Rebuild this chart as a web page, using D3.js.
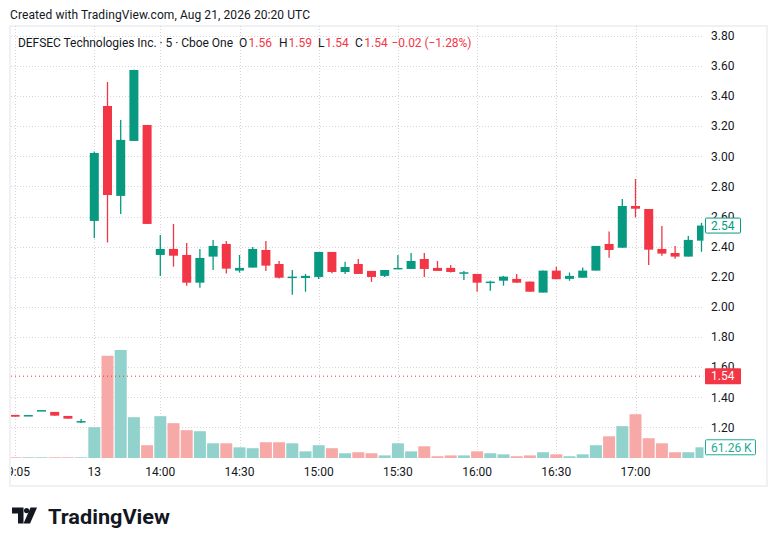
<!DOCTYPE html>
<html>
<head>
<meta charset="utf-8">
<script src="https://cdn.jsdelivr.net/npm/d3@7"></script>
<style>
  body { margin: 0; background: #fff; }
  text { font-family: Roboto, "Liberation Sans", sans-serif; }
</style>
</head>
<body>
<div id="chart"></div>
<script>
// bar times (5 min), prev day 12 then day 13
const times = [
  "12 19:05","12 19:10","12 19:15","12 19:20","12 19:25","12 19:30",
  "13 13:35","13 13:40","13 13:45","13 13:50","13 13:55",
  "13 14:00","13 14:05","13 14:10","13 14:15","13 14:20","13 14:25",
  "13 14:30","13 14:35","13 14:40","13 14:45","13 14:50","13 14:55",
  "13 15:00","13 15:05","13 15:10","13 15:15","13 15:20","13 15:25",
  "13 15:30","13 15:35","13 15:40","13 15:45","13 15:50","13 15:55",
  "13 16:00","13 16:05","13 16:10","13 16:15","13 16:20","13 16:25",
  "13 16:30","13 16:35","13 16:40","13 16:45","13 16:50","13 16:55",
  "13 17:00","13 17:05","13 17:10","13 17:15","13 17:20","13 17:25"
];

const opens = [1.283,1.279,1.312,1.303,1.276,1.240,
  2.571,3.334,2.737,3.102,3.208,2.345,2.385,2.345,2.161,2.334,2.418,2.241,2.261,2.378,2.285,2.199,
  2.192,2.199,2.365,2.232,2.285,2.239,2.206,2.252,2.252,2.318,2.259,2.259,2.226,2.219,2.161,2.174,
  2.186,2.168,2.095,2.241,2.186,2.194,2.241,2.418,2.393,2.670,2.650,2.385,2.358,2.334,2.440];
const highs = [1.283,1.282,1.315,1.303,1.276,1.256,
  3.031,3.494,3.241,3.575,3.208,2.478,2.551,2.425,2.385,2.445,2.438,2.345,2.398,2.438,2.305,2.245,
  2.219,2.365,2.365,2.299,2.318,2.239,2.245,2.345,2.358,2.358,2.305,2.279,2.239,2.219,2.174,2.206,
  2.219,2.168,2.241,2.267,2.228,2.261,2.405,2.500,2.717,2.850,2.650,2.538,2.405,2.471,2.558];
const lows = [1.271,1.279,1.312,1.278,1.258,1.230,
  2.458,2.427,2.617,3.102,2.551,2.206,2.267,2.141,2.128,2.245,2.221,2.228,2.261,2.239,2.188,2.081,
  2.101,2.186,2.223,2.219,2.219,2.166,2.199,2.252,2.252,2.199,2.239,2.228,2.179,2.101,2.108,2.141,
  2.161,2.101,2.095,2.184,2.174,2.194,2.241,2.327,2.393,2.593,2.279,2.340,2.320,2.334,2.367];
const closes = [1.271,1.282,1.315,1.278,1.258,1.242,
  3.022,2.743,3.109,3.573,2.551,2.385,2.340,2.161,2.325,2.405,2.254,2.259,2.385,2.274,2.194,2.201,
  2.206,2.365,2.232,2.265,2.219,2.199,2.245,2.259,2.305,2.252,2.239,2.232,2.230,2.161,2.168,2.201,
  2.161,2.101,2.241,2.184,2.206,2.241,2.405,2.378,2.670,2.652,2.380,2.354,2.334,2.445,2.540];
// volume in thousands
const volumes = [4,4,4,4,4,4,
  176,584,617,233,73,239,199,159,153,84,84,61,56,90,90,84,38,73,56,27,33,27,15,84,38,67,
  10,15,15,38,27,21,10,15,33,21,10,21,73,124,182,250,113,84,33,33,61.26];

const priceTicks = [1.2,1.4,1.6,1.8,2.0,2.2,2.4,2.6,2.8,3.0,3.2,3.4,3.6,3.8];
const tickTimes = ["12 19:05","13 13:35","13 14:00","13 14:30","13 15:00","13 15:30","13 16:00","13 16:30","13 17:00"];
const tickLabels = ["19:05","13","14:00","14:30","15:00","15:30","16:00","16:30","17:00"];

const lastPrice = 2.54;
const linePrice = 1.54;
const lastVolLabel = "61.26 K";

const W = 776, H = 546;
const UP = "#089981", DOWN = "#f23645";
const UPV = "#92d2cc", DOWNV = "#f7a9a7";
const TXT = "#131722", GRID = "#d4d6da";

const pane = {left: 11, right: 703.5, top: 26, bottom: 458};

const svg = d3.select("#chart").append("svg")
  .attr("width", W).attr("height", H);

const bars = times.map((t, i) => ({
  t: t, o: opens[i], h: highs[i], l: lows[i], c: closes[i], v: volumes[i]
}));

const x = d3.scaleBand().domain(times).range([8.5, 708.1]).padding(0);
const cx = t => x(t) + x.bandwidth() / 2;
const y = d3.scaleLinear().domain([1.2, 3.8]).range([427.4, 35.8]);
const yVol = d3.scaleLinear().domain([0, d3.max(volumes)]).range([pane.bottom, pane.bottom - 108]);

// header
svg.append("text").attr("x", 10).attr("y", 19)
  .attr("font-size", 12).attr("fill", TXT)
  .attr("textLength", 300).attr("lengthAdjust", "spacing")
  .text("Created with TradingView.com, Aug 21, 2026 20:20 UTC");

// frame
svg.append("rect").attr("x", 10).attr("y", 26).attr("width", 757).attr("height", 460)
  .attr("fill", "none").attr("stroke", "#eceef2").attr("stroke-width", 1.6);

svg.append("clipPath").attr("id", "pane").append("rect")
  .attr("x", pane.left).attr("y", pane.top)
  .attr("width", pane.right - pane.left).attr("height", pane.bottom - pane.top);

const g = svg.append("g").attr("clip-path", "url(#pane)");

// grid
g.selectAll("line.hgrid").data(priceTicks).enter().append("line")
  .attr("class", "hgrid")
  .attr("x1", pane.left).attr("x2", pane.right)
  .attr("y1", d => Math.round(y(d)) + 0.5).attr("y2", d => Math.round(y(d)) + 0.5)
  .attr("stroke", GRID).attr("stroke-dasharray", "1,2");
g.selectAll("line.vgrid").data(tickTimes).enter().append("line")
  .attr("class", "vgrid")
  .attr("x1", d => Math.round(cx(d)) + 0.5).attr("x2", d => Math.round(cx(d)) + 0.5)
  .attr("y1", pane.top).attr("y2", pane.bottom)
  .attr("stroke", GRID).attr("stroke-dasharray", "1,2");

// volume
g.selectAll("rect.vol").data(bars).enter().append("rect")
  .attr("class", "vol")
  .attr("x", d => cx(d.t) - 6).attr("width", 12)
  .attr("y", d => yVol(d.v)).attr("height", d => Math.max(0.8, pane.bottom - yVol(d.v)))
  .attr("fill", d => d.c >= d.o ? UPV : DOWNV);

// candles
const candle = g.selectAll("g.candle").data(bars).enter().append("g").attr("class", "candle");
candle.append("line")
  .attr("x1", d => cx(d.t)).attr("x2", d => cx(d.t))
  .attr("y1", d => y(d.h)).attr("y2", d => y(d.l))
  .attr("stroke", d => d.c >= d.o ? UP : DOWN).attr("stroke-width", 1.3);
candle.append("rect")
  .attr("x", d => cx(d.t) - 4.5).attr("width", 9)
  .attr("y", d => y(Math.max(d.o, d.c)))
  .attr("height", d => Math.max(1.5, Math.abs(y(d.o) - y(d.c))))
  .attr("fill", d => d.c >= d.o ? UP : DOWN);

// price line
g.append("line")
  .attr("x1", pane.left).attr("x2", pane.right)
  .attr("y1", y(linePrice)).attr("y2", y(linePrice))
  .attr("stroke", DOWN).attr("stroke-dasharray", "1,3");

// price axis
svg.selectAll("text.ptick").data(priceTicks).enter().append("text")
  .attr("class", "ptick")
  .attr("x", 711).attr("y", d => y(d) + 4.3)
  .attr("font-size", 12).attr("fill", TXT)
  .text(d => d.toFixed(2));

// last price labels
svg.append("rect").attr("x", 705.5).attr("y", y(lastPrice) - 7.5).attr("width", 35).attr("height", 15)
  .attr("fill", "#fff").attr("stroke", UP).attr("rx", 1);
svg.append("text").attr("x", 711).attr("y", y(lastPrice) + 4.3)
  .attr("font-size", 12).attr("fill", UP).text(lastPrice.toFixed(2));

svg.append("rect").attr("x", 705).attr("y", y(linePrice) - 8).attr("width", 36).attr("height", 16)
  .attr("fill", DOWN).attr("rx", 1);
svg.append("text").attr("x", 711).attr("y", y(linePrice) + 4.3)
  .attr("font-size", 12).attr("fill", "#fff").text(linePrice.toFixed(2));

const lastVol = volumes[volumes.length - 1];
svg.append("rect").attr("x", 705.5).attr("y", yVol(lastVol) - 7.5).attr("width", 50).attr("height", 15)
  .attr("fill", "#fff").attr("stroke", "#22ab94").attr("rx", 1);
svg.append("text").attr("x", 711).attr("y", yVol(lastVol) + 4.3)
  .attr("font-size", 12).attr("fill", "#22ab94").text(lastVolLabel);

// time axis
const tAxis = svg.append("g").attr("clip-path", "url(#taxis)");
svg.append("clipPath").attr("id", "taxis").append("rect")
  .attr("x", 11).attr("y", 458).attr("width", 692).attr("height", 27);
tAxis.selectAll("text").data(tickTimes).enter().append("text")
  .attr("x", d => cx(d)).attr("y", 475.5)
  .attr("text-anchor", "middle").attr("font-size", 12).attr("fill", TXT)
  .text((d, i) => tickLabels[i]);

// legend
const legend = [
  {x: 18, s: "DEFSEC Technologies Inc. · 5 · Cboe One", c: TXT, w: 215},
  {x: 239, s: "O", c: TXT}, {x: 248.5, s: "1.56", c: DOWN},
  {x: 279, s: "H", c: TXT}, {x: 288.5, s: "1.59", c: DOWN},
  {x: 318, s: "L", c: TXT}, {x: 325.3, s: "1.54", c: DOWN},
  {x: 355, s: "C", c: TXT}, {x: 364.3, s: "1.54", c: DOWN},
  {x: 391.5, s: "\u22120.02 (\u22121.28%)", c: DOWN, w: 80}
];
svg.selectAll("text.leg").data(legend).enter().append("text")
  .attr("class", "leg")
  .attr("x", d => d.x).attr("y", 46.5)
  .attr("font-size", 12).attr("fill", d => d.c)
  .attr("textLength", d => d.w || null)
  .attr("lengthAdjust", "spacing")
  .text(d => d.s);

// logo
const logo = svg.append("g").attr("fill", "#131722");
logo.append("path").attr("d", "M12,507.5 H23.5 V523.5 H18 V513.5 H12 Z");
logo.append("circle").attr("cx", 26.6).attr("cy", 510.6).attr("r", 2.6);
logo.append("path").attr("d", "M30.5,507.5 H37 L30,523.5 H23.5 Z");
logo.append("text").attr("x", 48).attr("y", 523.5)
  .attr("font-size", 21).attr("font-weight", 700)
  .attr("textLength", 122).attr("lengthAdjust", "spacingAndGlyphs")
  .text("TradingView");
</script>
</body>
</html>
